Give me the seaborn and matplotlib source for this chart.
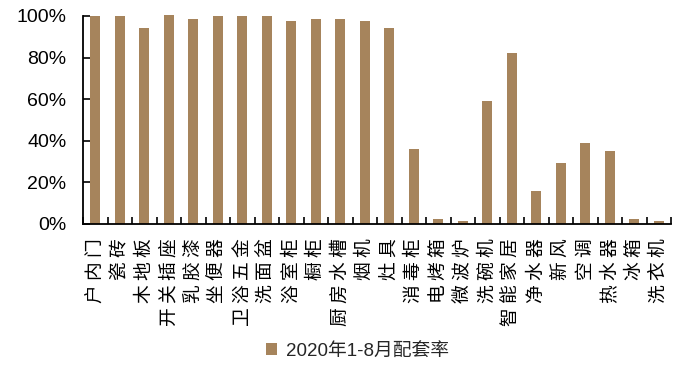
import matplotlib
matplotlib.use("Agg")
import matplotlib.pyplot as plt
import seaborn as sns
import numpy as np
from matplotlib.ticker import FuncFormatter, FixedLocator
from matplotlib.patches import Patch

categories = ["户内门", "瓷砖", "木地板", "开关插座", "乳胶漆", "坐便器", "卫浴五金", "洗面盆",
              "浴室柜", "橱柜", "厨房水槽", "烟机", "灶具", "消毒柜", "电烤箱", "微波炉",
              "洗碗机", "智能家居", "净水器", "新风", "空调", "热水器", "冰箱", "洗衣机"]
rates = [1.00, 1.00, 0.94, 1.005, 0.986, 1.00, 1.00, 1.00,
         0.976, 0.986, 0.986, 0.976, 0.94, 0.361, 0.024, 0.014,
         0.591, 0.822, 0.159, 0.293, 0.389, 0.351, 0.024, 0.014]
series_name = "2020年1-8月配套率"
bar_color = "#A6845C"

sns.set_theme(style="white")
plt.rcParams["font.family"] = ["Liberation Sans", "Noto Sans CJK SC", "DejaVu Sans"]

fig = plt.figure(figsize=(6.82, 3.65), dpi=100)
ax = fig.add_axes([83 / 682, 1 - 224 / 365, (671 - 83) / 682, (224 - 16) / 365])

sns.barplot(x=categories, y=rates, color=bar_color, width=0.4, ax=ax,
            saturation=1, edgecolor="none")
for p in ax.patches:
    p.set_clip_on(False)

ax.set_ylim(0, 1.0)
ax.set_xlim(-0.5, len(categories) - 0.5)
ax.yaxis.set_major_locator(FixedLocator([0, 0.2, 0.4, 0.6, 0.8, 1.0]))
ax.yaxis.set_major_formatter(FuncFormatter(lambda v, _: f"{v * 100:.0f}%"))
ax.tick_params(axis="y", direction="in", length=5, width=1.2, colors="black",
               labelsize=14, pad=12, left=True)

# category names run bottom-to-top, letter-spaced, ending just under the axis
ax.set_xticks(range(len(categories)))
ax.set_xticklabels([" ".join(c) for c in categories])
ax.tick_params(axis="x", which="major", length=0, pad=10, colors="black")
ax.set_xticks(np.arange(-0.5, len(categories) + 0.5, 1), minor=True)
ax.tick_params(axis="x", which="minor", direction="in", length=5, width=1.2,
               bottom=True, color="black")
for lab in ax.get_xticklabels():
    lab.set_fontfamily(["Noto Sans CJK SC"])
    lab.set_fontsize(13.5)
    lab.set_rotation(90)
    lab.set_verticalalignment("top")
    lab.set_horizontalalignment("center")

for side in ["top", "right"]:
    ax.spines[side].set_visible(False)
for side in ["left", "bottom"]:
    ax.spines[side].set_color("black")
    ax.spines[side].set_linewidth(1.3)
ax.set_xlabel("")
ax.set_ylabel("")

handle = Patch(facecolor=bar_color, edgecolor="none")
fig.legend([handle], [series_name], loc="center", bbox_to_anchor=(0.524, 1 - 351 / 365),
           frameon=False, handlelength=0.6, handleheight=0.6, handletextpad=0.5,
           prop={"family": ["Liberation Sans", "Noto Sans CJK SC"], "size": 13.5})

fig.savefig("out.png", dpi=100)
